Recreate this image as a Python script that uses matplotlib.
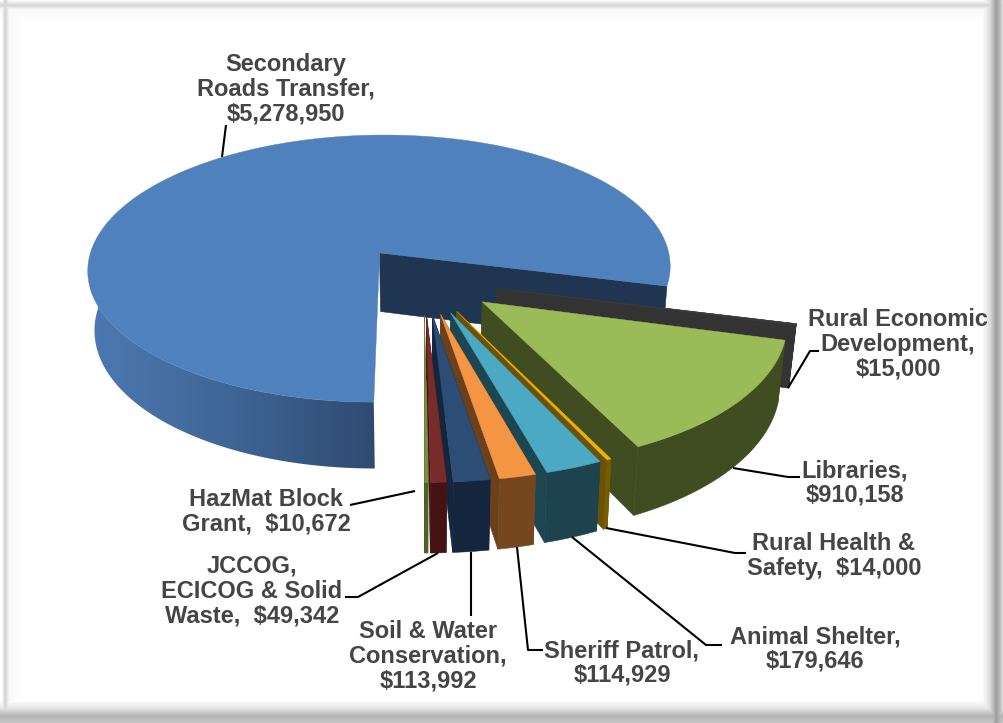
import numpy as np
import matplotlib
matplotlib.use("Agg")
import matplotlib.pyplot as plt
from matplotlib.colors import LinearSegmentedColormap
from matplotlib.patches import Polygon

# County budget allocations, clockwise from the largest slice
names = ["Secondary Roads Transfer", "Rural Economic Development", "Libraries",
         "Rural Health & Safety", "Animal Shelter", "Sheriff Patrol",
         "Soil & Water Conservation", "JCCOG, ECICOG & Solid Waste",
         "HazMat Block Grant"]
values = [5278950, 15000, 910158, 14000, 179646, 114929, 113992, 49342, 10672]

top_colors = ["#4F81BD", "#3A3A3A", "#9BBB59", "#F2B200", "#4BA9C4", "#F39542",
              "#2C4D75", "#772C2A", "#77933C"]
cut_colors = ["#1F3552", "#333333", "#404D20", "#6B5200", "#1B4652", "#6B401C",
              "#14263D", "#431313", "#3F4F20"]
rim_colors = ["#3A5F8E", "#333333", "#404D20", "#7A5C00", "#1D434F", "#76471F",
              "#14263D", "#431313", "#4F6228"]

label_lines = [
    "Secondary\nRoads Transfer,\n${:,}",
    "Rural Economic\nDevelopment,\n${:,}",
    "Libraries,\n${:,}",
    "Rural Health &\nSafety,  ${:,}",
    "Animal Shelter,\n${:,}",
    "Sheriff Patrol,\n${:,}",
    "Soil & Water\nConservation,\n${:,}",
    "JCCOG,\nECICOG & Solid\nWaste,  ${:,}",
    "HazMat Block\nGrant,  ${:,}",
]
label_pos = [(286, 89), (898, 344), (855, 483), (834, 556), (815, 649),
             (622, 663), (428, 656), (252, 591), (266, 512)]
leaders = [
    [(226, 125), (222, 157)],
    [(819, 351), (810, 351), (788, 388)],
    [(800, 477), (788, 477), (733, 468)],
    [(746, 553), (735, 553), (606, 528)],
    [(722, 645), (706, 645), (572, 537)],
    [(543, 650), (528, 650), (517, 547)],
    [(471, 552), (471, 616)],
    [(345, 597), (358, 597), (438, 553)],
    [(350, 505), (415, 491)],
]

# Pie projection parameters (pixels)
CX, CY = 424.0, 279.5
RX, RY = 296.0, 138.0
PERSP = 0.12
DEPTH = 60.0
SHRINK = 0.02
EXPLODE = 0.25
FIRST_ANGLE = -14.2


def project(u, v, z=0.0):
    p = 1.0 / (1.0 + PERSP * v)
    s = 1.0 - SHRINK * z / DEPTH
    return CX + RX * u * p * s, CY - RY * v * p + z * p


fig = plt.figure(figsize=(10.04, 7.23), dpi=100)
ax = fig.add_axes([0, 0, 1, 1])
ax.axis("off")

# Frame with a soft drop shadow on the right and bottom
xs = np.arange(1004) + 0.5
ys = np.arange(723) + 0.5
shade_x = np.interp(xs, [0, 2, 4.5, 6, 9, 24, 982, 990, 996, 1000, 1004],
                    [1, 1, .84, .84, .97, 1, 1, .86, .62, .72, .95])
shade_y = np.interp(ys, [0, 1.5, 4.5, 6, 9, 24, 700, 708, 716, 723],
                    [1, .95, .85, .85, .97, 1, 1, .90, .70, .78])
ax.imshow(np.minimum.outer(shade_y, shade_x), cmap="gray", vmin=0, vmax=1,
          extent=(0, 1004, 723, 0), aspect="auto", interpolation="bilinear", zorder=0)

total = float(sum(values))
sweeps = [v / total * 360.0 for v in values]

# The big slice runs counter-clockwise from the first angle; the others
# follow clockwise from that same edge
spans = [(FIRST_ANGLE, FIRST_ANGLE + sweeps[0])]
edge = FIRST_ANGLE
for s in sweeps[1:]:
    spans.append((edge - s, edge))
    edge -= s

blue_wall = LinearSegmentedColormap.from_list("wall", ["#4C79B2", "#3F6595", "#2E4A71"])

z = 2
for i, (lo, hi) in enumerate(spans):
    mid = np.radians((lo + hi) / 2.0)
    ox, oy = EXPLODE * np.cos(mid), EXPLODE * np.sin(mid)
    th = np.radians(np.linspace(lo, hi, max(int(hi - lo) * 2, 6)))
    rim_u = ox + np.cos(th)
    rim_v = oy + np.sin(th)

    # Flat cut walls: far edge first, then the near one
    # (the large slice only shows its eastern cut)
    cuts = (lo,) if i == 0 else (hi, lo)
    for ang in cuts:
        a = np.radians(ang)
        eu, ev = ox + np.cos(a), oy + np.sin(a)
        quad = [project(ox, oy), project(eu, ev), project(eu, ev, DEPTH), project(ox, oy, DEPTH)]
        ax.add_patch(Polygon(quad, closed=True, fc=cut_colors[i], ec=cut_colors[i], lw=0.4, zorder=z))
    z += 1

    # Curved outer wall, on the side facing the viewer
    front = np.sin(th) <= 0.03
    if front.sum() >= 2:
        fu, fv = rim_u[front], rim_v[front]
        tx, ty = project(fu, fv)
        bx, by = project(fu, fv, DEPTH)
        outline = np.column_stack([np.concatenate([tx, bx[::-1]]),
                                   np.concatenate([ty, by[::-1]])])
        if i == 0:
            # The large slice's wall darkens smoothly towards its cut edge
            shape = Polygon(outline[np.where(outline[:, 0] < 380)], closed=True,
                            fc="none", ec="none", transform=ax.transData)
            ax.add_patch(shape)
            grad = ax.imshow(np.linspace(0, 1, 256).reshape(1, -1), cmap=blue_wall,
                             extent=(90, 378, 480, 260), aspect="auto", zorder=z)
            grad.set_clip_path(shape)
        else:
            ax.add_patch(Polygon(outline, closed=True, fc=rim_colors[i], ec=rim_colors[i],
                                 lw=0.4, zorder=z))
    z += 1

    # Top face
    px, py = project(np.concatenate([[ox], rim_u]), np.concatenate([[oy], rim_v]))
    ax.add_patch(Polygon(np.column_stack([px, py]), closed=True, fc=top_colors[i],
                         ec=top_colors[i], lw=0.3, zorder=z))
    z += 1

ax.set_xlim(0, 1004)
ax.set_ylim(723, 0)

# Leader lines
for pts in leaders:
    lx, ly = zip(*pts)
    ax.plot(lx, ly, color="black", lw=1.5, solid_capstyle="butt", zorder=z)

# Category labels with their amounts
for tmpl, val, (tx, ty) in zip(label_lines, values, label_pos):
    ax.text(tx, ty, tmpl.format(val), ha="center", va="center", multialignment="center",
            family="Liberation Sans", weight="bold", fontsize=17, color="#454545",
            linespacing=1.1, zorder=z + 1)

fig.savefig("out.png", dpi=100)
